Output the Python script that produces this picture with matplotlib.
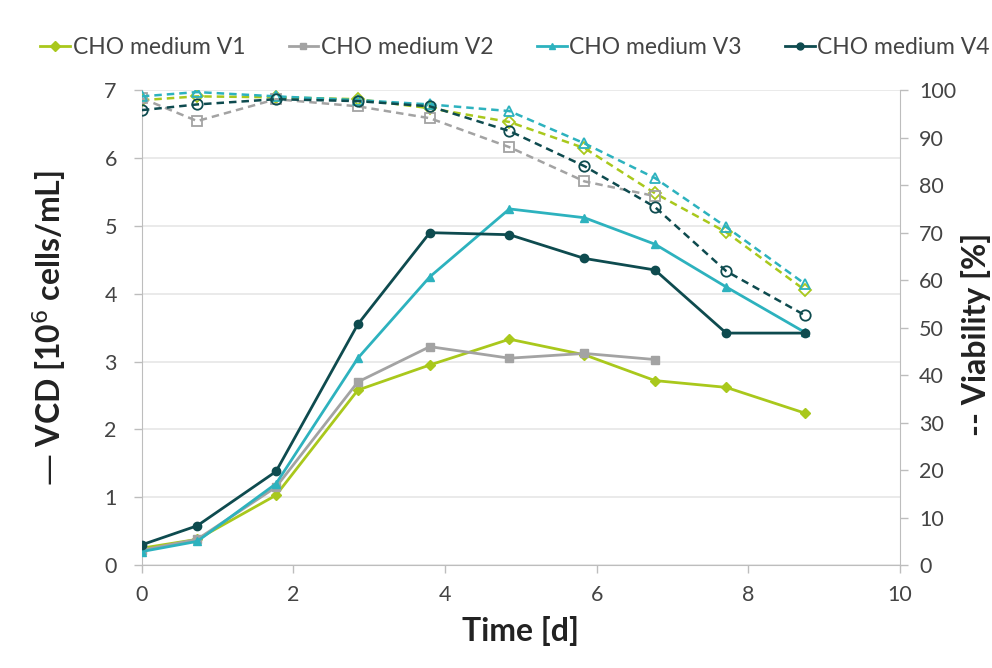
import matplotlib.pyplot as plt
from matplotlib.lines import Line2D

plt.rcParams['font.family'] = ['Lato', 'DejaVu Sans']

days = [0, 0.73, 1.77, 2.85, 3.80, 4.85, 5.84, 6.77, 7.71, 8.75]
names = ['CHO medium V1', 'CHO medium V2', 'CHO medium V3', 'CHO medium V4']
colors = ['#a9c81c', '#a3a3a3', '#2db2be', '#0e4b4f']
markers = ['D', 's', '^', 'o']

# viable cell density [1e6 cells/mL]
vcd_v1 = [0.25, 0.38, 1.03, 2.58, 2.95, 3.33, 3.10, 2.72, 2.62, 2.24]
vcd_v2 = [0.22, 0.38, 1.15, 2.70, 3.22, 3.05, 3.12, 3.03]
vcd_v3 = [0.20, 0.35, 1.20, 3.05, 4.25, 5.25, 5.12, 4.73, 4.10, 3.43]
vcd_v4 = [0.30, 0.58, 1.38, 3.55, 4.90, 4.87, 4.52, 4.35, 3.42, 3.42]

# viability [%]
via_v1 = [97.9, 98.7, 98.5, 98.1, 96.2, 93.3, 87.8, 78.3, 70.1, 57.9]
via_v2 = [98.3, 93.5, 98.1, 96.6, 94.1, 88.0, 80.8, 77.7]
via_v3 = [98.7, 99.6, 98.7, 97.9, 97.0, 95.6, 88.8, 81.5, 71.2, 59.2]
via_v4 = [95.8, 97.0, 98.1, 97.7, 96.6, 91.4, 84.0, 75.4, 61.9, 52.6]

vcd = [vcd_v1, vcd_v2, vcd_v3, vcd_v4]
via = [via_v1, via_v2, via_v3, via_v4]

fig = plt.figure(figsize=(9.92, 6.68), dpi=100)
ax = fig.add_axes([0.143, 0.154, 0.764, 0.711])
ax2 = ax.twinx()

for i in range(4):
    n = len(vcd[i])
    ax.plot(days[:n], vcd[i], color=colors[i], marker=markers[i], lw=2,
            ms=6 if markers[i] != 'D' else 5, zorder=3)
    m = len(via[i])
    ax2.plot(days[:m], via[i], color=colors[i], marker=markers[i], lw=1.8,
             ls=(0, (3, 2)), ms=7.5 if markers[i] != 'D' else 6,
             mfc='none', mew=1.3, zorder=3)

ax.set_xlim(0, 10)
ax.set_ylim(0, 7)
ax2.set_ylim(0, 100)
ax.set_xticks([0, 2, 4, 6, 8, 10])
ax.set_yticks(range(8))
ax2.set_yticks(range(0, 101, 10))

ax.grid(axis='y', color='#e6e6e6', lw=1.2)
ax.set_axisbelow(True)
for a in (ax, ax2):
    for s in a.spines.values():
        s.set_color('#bdbdbd')
    a.spines['top'].set_visible(False)
    a.tick_params(colors='#bdbdbd', labelcolor='#444444', labelsize=15.5,
                  length=6, width=1, pad=8)
ax.spines['right'].set_visible(False)
ax2.spines['left'].set_visible(False)
ax2.spines['bottom'].set_visible(False)
ax.tick_params(axis='y', pad=12)

ax.set_xlabel('Time [d]', fontsize=23, fontweight='bold', color='#222222',
              labelpad=8)
ax.set_ylabel('— VCD [10$^6$ cells/mL]', fontsize=23, fontweight='bold',
              color='#222222', labelpad=26)
fig.text(0.999, 0.5, '-- Viability [%]', rotation=90, fontsize=23,
         fontweight='bold', color='#222222', ha='right', va='center')

handles = [Line2D([], [], color=colors[i], marker=markers[i], lw=2, ms=5)
           for i in range(4)]
fig.legend(handles, names, loc='upper left', bbox_to_anchor=(0.02, 0.975),
           ncol=4, frameon=False, fontsize=16.5, handlelength=1.3,
           handletextpad=0.1, columnspacing=1.9, labelcolor='#444444')

fig.savefig('out.png', dpi=100)
